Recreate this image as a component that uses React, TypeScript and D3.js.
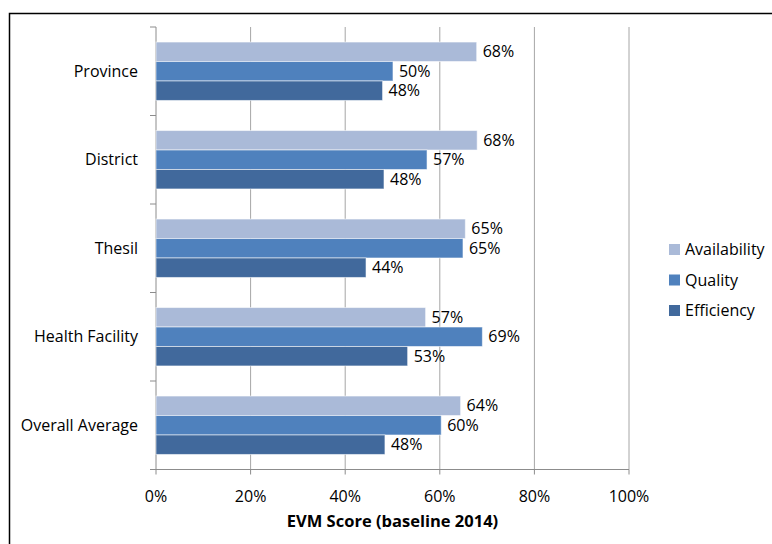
import React from "react";
import * as d3 from "d3";

const categories = ["Province", "District", "Thesil", "Health Facility", "Overall Average"];
const seriesNames = ["Availability", "Quality", "Efficiency"];
const availability = [67.8, 67.9, 65.4, 57.0, 64.4];
const quality = [50.1, 57.3, 64.9, 69.0, 60.3];
const efficiency = [47.9, 48.2, 44.4, 53.2, 48.4];
const xTicks = [0, 20, 40, 60, 80, 100];
const colors = ["#aabad8", "#4f81bd", "#41699c"];

const seriesValues = [availability, quality, efficiency];
const FONT = "'Open Sans', sans-serif";

export default function App() {
  const W = 772, H = 544;
  const left = 156, right = 629, top = 27, bottom = 469.5;
  const x = d3.scaleLinear().domain([0, 100]).range([left, right]);
  const y = d3.scaleBand<string>().domain(categories).range([top, bottom]).paddingInner(0.34).paddingOuter(0.17);
  const inner = d3.scaleBand<string>().domain(seriesNames).range([0, y.bandwidth()]);
  const step = (bottom - top) / categories.length;

  return (
    <svg width={W} height={H} style={{ position: "absolute", left: 0, top: 0 }} fontFamily={FONT}>
      <rect x={0} y={0} width={W} height={H} fill="#fff" />
      <rect x={9.5} y={13.5} width={W + 10} height={H + 10} fill="none" stroke="#000" strokeWidth={1.5} />
      {xTicks.slice(1).map((t) => (
        <line key={"g" + t} x1={x(t)} x2={x(t)} y1={top} y2={bottom} stroke="#a6a6a6" strokeWidth={1} />
      ))}
      <line x1={left} x2={right} y1={bottom} y2={bottom} stroke="#8c8c8c" />
      {xTicks.map((t) => (
        <g key={"t" + t}>
          <line x1={x(t)} x2={x(t)} y1={bottom} y2={bottom + 5} stroke="#8c8c8c" />
          <text x={x(t)} y={bottom + 32} textAnchor="middle" fontSize={16} fill="#000">{t + "%"}</text>
        </g>
      ))}
      <line x1={left} x2={left} y1={top} y2={bottom} stroke="#8c8c8c" />
      {d3.range(categories.length + 1).map((i) => (
        <line key={"yt" + i} x1={left - 6} x2={left} y1={top + i * step} y2={top + i * step} stroke="#8c8c8c" />
      ))}
      {categories.map((c, ci) => (
        <g key={c}>
          <text x={138} y={(y(c) ?? 0) + y.bandwidth() / 2} dy="0.35em" textAnchor="end" fontSize={16} fill="#000">{c}</text>
          {seriesNames.map((s, si) => {
            const v = seriesValues[si][ci];
            const by = (y(c) ?? 0) + (inner(s) ?? 0);
            return (
              <g key={s}>
                <rect x={x(0)} y={by} width={x(v) - x(0)} height={inner.bandwidth()} fill={colors[si]} stroke="rgba(255,255,255,0.55)" strokeWidth={1} />
                <text x={x(v) + 6} y={by + inner.bandwidth() / 2} dy="0.34em" fontSize={16} fill="#000">{Math.round(v) + "%"}</text>
              </g>
            );
          })}
        </g>
      ))}
      <text x={(left + right) / 2} y={527} textAnchor="middle" fontSize={16.5} fontWeight="bold" fill="#000">EVM Score (baseline 2014)</text>
      {seriesNames.map((s, i) => (
        <g key={"l" + s}>
          <rect x={669} y={244 + i * 30.5} width={11} height={11} fill={colors[i]} />
          <text x={685} y={249.5 + i * 30.5} dy="0.35em" fontSize={16} fill="#000">{s}</text>
        </g>
      ))}
    </svg>
  );
}
